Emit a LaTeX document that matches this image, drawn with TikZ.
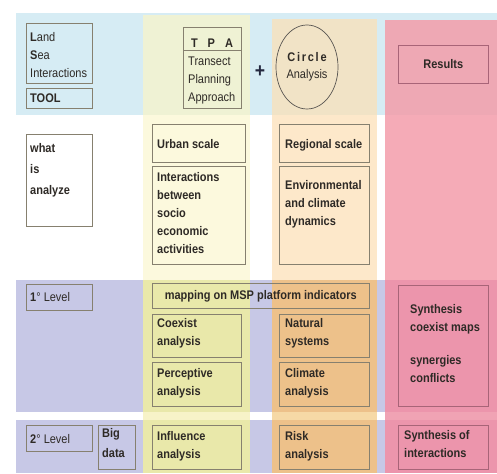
\documentclass[tikz,border=0pt]{standalone}
\usepackage{fontspec}
\setmainfont{Liberation Sans}[FakeStretch=0.88]
\usetikzlibrary{shapes.geometric,calc}

% band and column colours
\definecolor{bandblue}{HTML}{D6ECF4}
\definecolor{bandpurple}{HTML}{C7C8E6}
\definecolor{yelBlue}{HTML}{EFF2D4}
\definecolor{yelWhite}{HTML}{FCF9DD}
\definecolor{yelPurple}{HTML}{E9E8AA}
\definecolor{yelStrip}{HTML}{F7F3C8}
\definecolor{orBlue}{HTML}{F1E3C6}
\definecolor{orWhite}{HTML}{FDE8CA}
\definecolor{orPurple}{HTML}{EDC18A}
\definecolor{orStrip}{HTML}{F6D9A6}
\definecolor{pkBlue}{HTML}{EEA8B4}
\definecolor{pkWhite}{HTML}{F5ABB7}
\definecolor{pkPurple}{HTML}{EC95AC}
\definecolor{pkStrip}{HTML}{F0A3B4}
\definecolor{boxline}{HTML}{86806F}
\definecolor{pkline}{HTML}{A86478}
\definecolor{ink}{HTML}{2E2A26}
\definecolor{plusink}{HTML}{23283F}

% one coloured column, split over the horizontal bands
\newcommand{\colband}[7]{%
  \fill[#4] (#1,#3) rectangle (#2,115);
  \fill[#5] (#1,115) rectangle (#2,280);
  \fill[#6] (#1,280) rectangle (#2,412);
  \fill[#7] (#1,412) rectangle (#2,420);
  \fill[#6] (#1,420) rectangle (#2,473);
}

\begin{document}
\begin{tikzpicture}[x=1pt,y=-1pt,
  box/.style={draw=boxline, line width=0.6pt, rectangle, inner sep=0pt, anchor=north west},
  pkbox/.style={box, draw=pkline},
  txt/.style={anchor=north west, inner sep=0pt, align=left, text=ink,
    font=\fontsize{12.5}{18}\selectfont},
  btxt/.style={txt, font=\fontsize{12.5}{18}\selectfont\bfseries},
  ctxt/.style={txt, anchor=center, align=center}]

\useasboundingbox (0,0) rectangle (497,473);
\fill[white] (0,0) rectangle (497,473);

% horizontal bands
\fill[bandblue] (16,13) rectangle (497,115);
\fill[bandpurple] (16,280) rectangle (497,412);
\fill[bandpurple] (16,420) rectangle (497,473);

% vertical columns
\colband{143}{250}{15}{yelBlue}{yelWhite}{yelPurple}{yelStrip}
\colband{272}{377}{19}{orBlue}{orWhite}{orPurple}{orStrip}
\colband{385}{497}{20}{pkBlue}{pkWhite}{pkPurple}{pkStrip}

% ---- header row
\node[box, minimum width=66pt, minimum height=60pt] (lsi) at (26,23) {};
\node[txt] (tlsi) at (30,32.5) {{\bfseries L}and\\{\bfseries S}ea\\Interactions};
\node[box, minimum width=66pt, minimum height=20pt] (tool) at (26,88) {};
\node[btxt] (ttool) at (30,93.5) {TOOL};

\node[box, minimum width=58pt, minimum height=81pt] (tpa) at (183,27) {};
\draw[boxline, line width=0.6pt] ($(tpa.north west)+(0,23)$) -- ($(tpa.north east)+(0,23)$);
\node[ctxt, font=\fontsize{12.5}{18}\selectfont\bfseries] (ttpa) at (212,43) {T\hspace{10pt}P\hspace{10pt}A};
\node[txt] (ttpa2) at (188,56.5) {Transect\\Planning\\Approach};

\node[ctxt, font=\fontsize{20}{20}\selectfont\bfseries, text=plusink] (plus) at (260,72) {+};

\node[ellipse, draw=ink!80, line width=0.7pt, minimum width=62pt, minimum height=84pt, inner sep=0pt] (circ) at (307,67) {};
\node[ctxt, font=\fontsize{12.5}{18}\selectfont\bfseries\addfontfeature{LetterSpace=14}] (tcirc) at (307,57) {Circle};
\node[ctxt] (tcirc2) at (307,75) {Analysis};

\node[pkbox, minimum width=90pt, minimum height=38pt] (res) at (398,45) {};
\node[ctxt, font=\fontsize{12.5}{18}\selectfont\bfseries] (tres) at (res.center) {Results};

% ---- what is analyzed
\node[box, minimum width=66pt, minimum height=92pt] (what) at (26,134) {};
\node[btxt] (twhat) at (30,143.5) {what\\[3pt]is\\[3pt]analyze};

\node[box, minimum width=93pt, minimum height=38pt] (urban) at (152,124) {};
\node[btxt] (turban) at (157,139.5) {Urban scale};
\node[box, minimum width=93pt, minimum height=98pt] (inter) at (152,166) {};
\node[btxt] (tinter) at (157,172.5) {Interactions\\between\\socio\\economic\\activities};

\node[box, minimum width=90pt, minimum height=38pt] (regional) at (279,124) {};
\node[btxt] (tregional) at (285,139.5) {Regional scale};
\node[box, minimum width=90pt, minimum height=98pt] (env) at (279,166) {};
\node[btxt] (tenv) at (285,180.5) {Environmental\\and climate\\dynamics};

% ---- first level
\node[box, minimum width=66pt, minimum height=26pt] (lvl1) at (26,284) {};
\node[txt] (tlvl1) at (30,292.5) {{\bfseries 1}° Level};

\node[box, minimum width=217pt, minimum height=25pt] (map) at (152,283) {};
\node[ctxt, font=\fontsize{12.5}{18}\selectfont\bfseries] (tmap) at (map.center) {mapping on MSP platform indicators};

\node[box, minimum width=89pt, minimum height=43pt] (coexist) at (152,314) {};
\node[btxt] (tcoexist) at (157,318.5) {Coexist\\analysis};
\node[box, minimum width=89pt, minimum height=44pt] (percep) at (152,362) {};
\node[btxt] (tpercep) at (157,368.5) {Perceptive\\analysis};

\node[box, minimum width=90pt, minimum height=43pt] (natural) at (279,314) {};
\node[btxt] (tnatural) at (285,318.5) {Natural\\systems};
\node[box, minimum width=90pt, minimum height=44pt] (climate) at (279,362) {};
\node[btxt] (tclimate) at (285,368.5) {Climate\\analysis};

\node[pkbox, minimum width=90pt, minimum height=121pt] (synth) at (398,285) {};
\node[btxt] (tsynth) at (410,304.5) {Synthesis\\coexist maps\\[15pt]synergies\\conflicts};

% ---- second level
\node[box, minimum width=66pt, minimum height=26pt] (lvl2) at (26,425) {};
\node[txt] (tlvl2) at (30,434.5) {{\bfseries 2}° Level};
\node[box, minimum width=37pt, minimum height=44pt] (big) at (98,425) {};
\node[btxt] (tbig) at (102,428.5) {Big\\[2pt]data};

\node[box, minimum width=89pt, minimum height=44pt] (infl) at (152,425) {};
\node[btxt] (tinfl) at (157,431.5) {Influence\\analysis};
\node[box, minimum width=90pt, minimum height=44pt] (risk) at (279,425) {};
\node[btxt] (trisk) at (285,431.5) {Risk\\analysis};
\node[pkbox, minimum width=90pt, minimum height=44pt] (synint) at (398,425) {};
\node[btxt] (tsynint) at (404,430.5) {Synthesis of\\interactions};

\end{tikzpicture}
\end{document}
